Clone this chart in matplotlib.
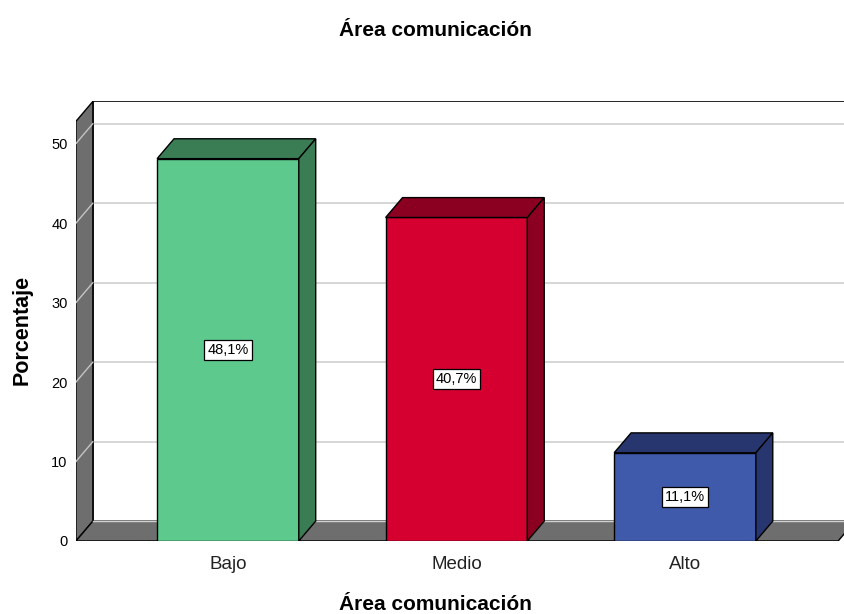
import matplotlib
matplotlib.use("Agg")
import matplotlib.pyplot as plt
from matplotlib.patches import Polygon

plt.rcParams["font.family"] = ["Liberation Sans", "DejaVu Sans"]

categories = ["Bajo", "Medio", "Alto"]
percent = [48.1, 40.7, 11.1]
front_colors = ["#5DC98C", "#D5002F", "#3F5AAA"]
side_colors = ["#3A7D55", "#8B0020", "#283670"]
y_ticks = [0, 10, 20, 30, 40, 50]

# pseudo 3D depth (category units / percent units)
DX = 0.074
DY = 2.5
BAR_W = 0.62
X0 = -0.665
X_END = 2.67
WALL_TOP = 52.8
WALL_GRAY = "#6E6E6E"

fig = plt.figure(figsize=(8.45, 6.14), dpi=100)
ax = fig.add_axes([0.0899, 0.1189, 0.9101, 0.7172])
ax.set_xlim(X0, 2.70)
ax.set_ylim(0, 55.4)
for s in ax.spines.values():
    s.set_visible(False)

# back wall gridlines
for v in y_ticks[1:]:
    ax.plot([X0 + DX, 2.8], [v + DY, v + DY], color="#D0D0D0", lw=1.2, zorder=1)
ax.plot([X0 + DX, 2.8], [WALL_TOP + DY, WALL_TOP + DY], color="black", lw=1.2, zorder=1)
ax.plot([X0 + DX, X0 + DX], [DY, WALL_TOP + DY], color="black", lw=1.2, zorder=1)

# left wall
ax.add_patch(Polygon([(X0, 0), (X0 + DX, DY), (X0 + DX, WALL_TOP + DY), (X0, WALL_TOP)],
                     closed=True, facecolor=WALL_GRAY, edgecolor="black", lw=1.0, zorder=2))
# floor
ax.add_patch(Polygon([(X0, 0), (X_END, 0), (X_END + DX, DY), (X0 + DX, DY)],
                     closed=True, facecolor=WALL_GRAY, edgecolor="black", lw=1.0, zorder=2))
ax.plot([X0 + DX, 2.8], [DY, DY], color="#D0D0D0", lw=1.0, zorder=2.5)
for v in y_ticks[1:]:
    ax.plot([X0, X0 + DX], [v, v + DY], color="#C4C4C4", lw=1.0, zorder=3)

# bars
x = list(range(len(categories)))
ax.bar(x, percent, width=BAR_W, color=front_colors, edgecolor="black", lw=1.0, zorder=5)
for xi, h, sc in zip(x, percent, side_colors):
    l, r = xi - BAR_W / 2, xi + BAR_W / 2
    ax.add_patch(Polygon([(l, h), (r, h), (r + DX, h + DY), (l + DX, h + DY)],
                         closed=True, facecolor=sc, edgecolor="black", lw=1.0, zorder=5))
    ax.add_patch(Polygon([(r, 0), (r + DX, DY), (r + DX, h + DY), (r, h)],
                         closed=True, facecolor=sc, edgecolor="black", lw=1.0, zorder=5))
    ax.text(xi, h / 2, f"{h:.1f}%".replace(".", ","), ha="center", va="center",
            fontsize=10.5, zorder=6,
            bbox=dict(boxstyle="square,pad=0.22", facecolor="white", edgecolor="black", lw=0.9))

ax.set_xticks(x)
ax.set_xticklabels(categories, fontsize=13.5, color="#222222")
ax.set_yticks(y_ticks)
ax.set_yticklabels([str(t) for t in y_ticks], fontsize=10.5)
ax.tick_params(axis="both", length=0)
ax.tick_params(axis="y", pad=6)
ax.tick_params(axis="x", pad=11)

fig.text(0.515, 0.951, "Área comunicación", ha="center", va="center", fontsize=15, fontweight="bold")
fig.text(0.515, 0.015, "Área comunicación", ha="center", va="center", fontsize=15, fontweight="bold")
fig.text(0.026, 0.462, "Porcentaje", ha="center", va="center", rotation=90, fontsize=15.5, fontweight="bold")

fig.savefig("out.png", dpi=100)
